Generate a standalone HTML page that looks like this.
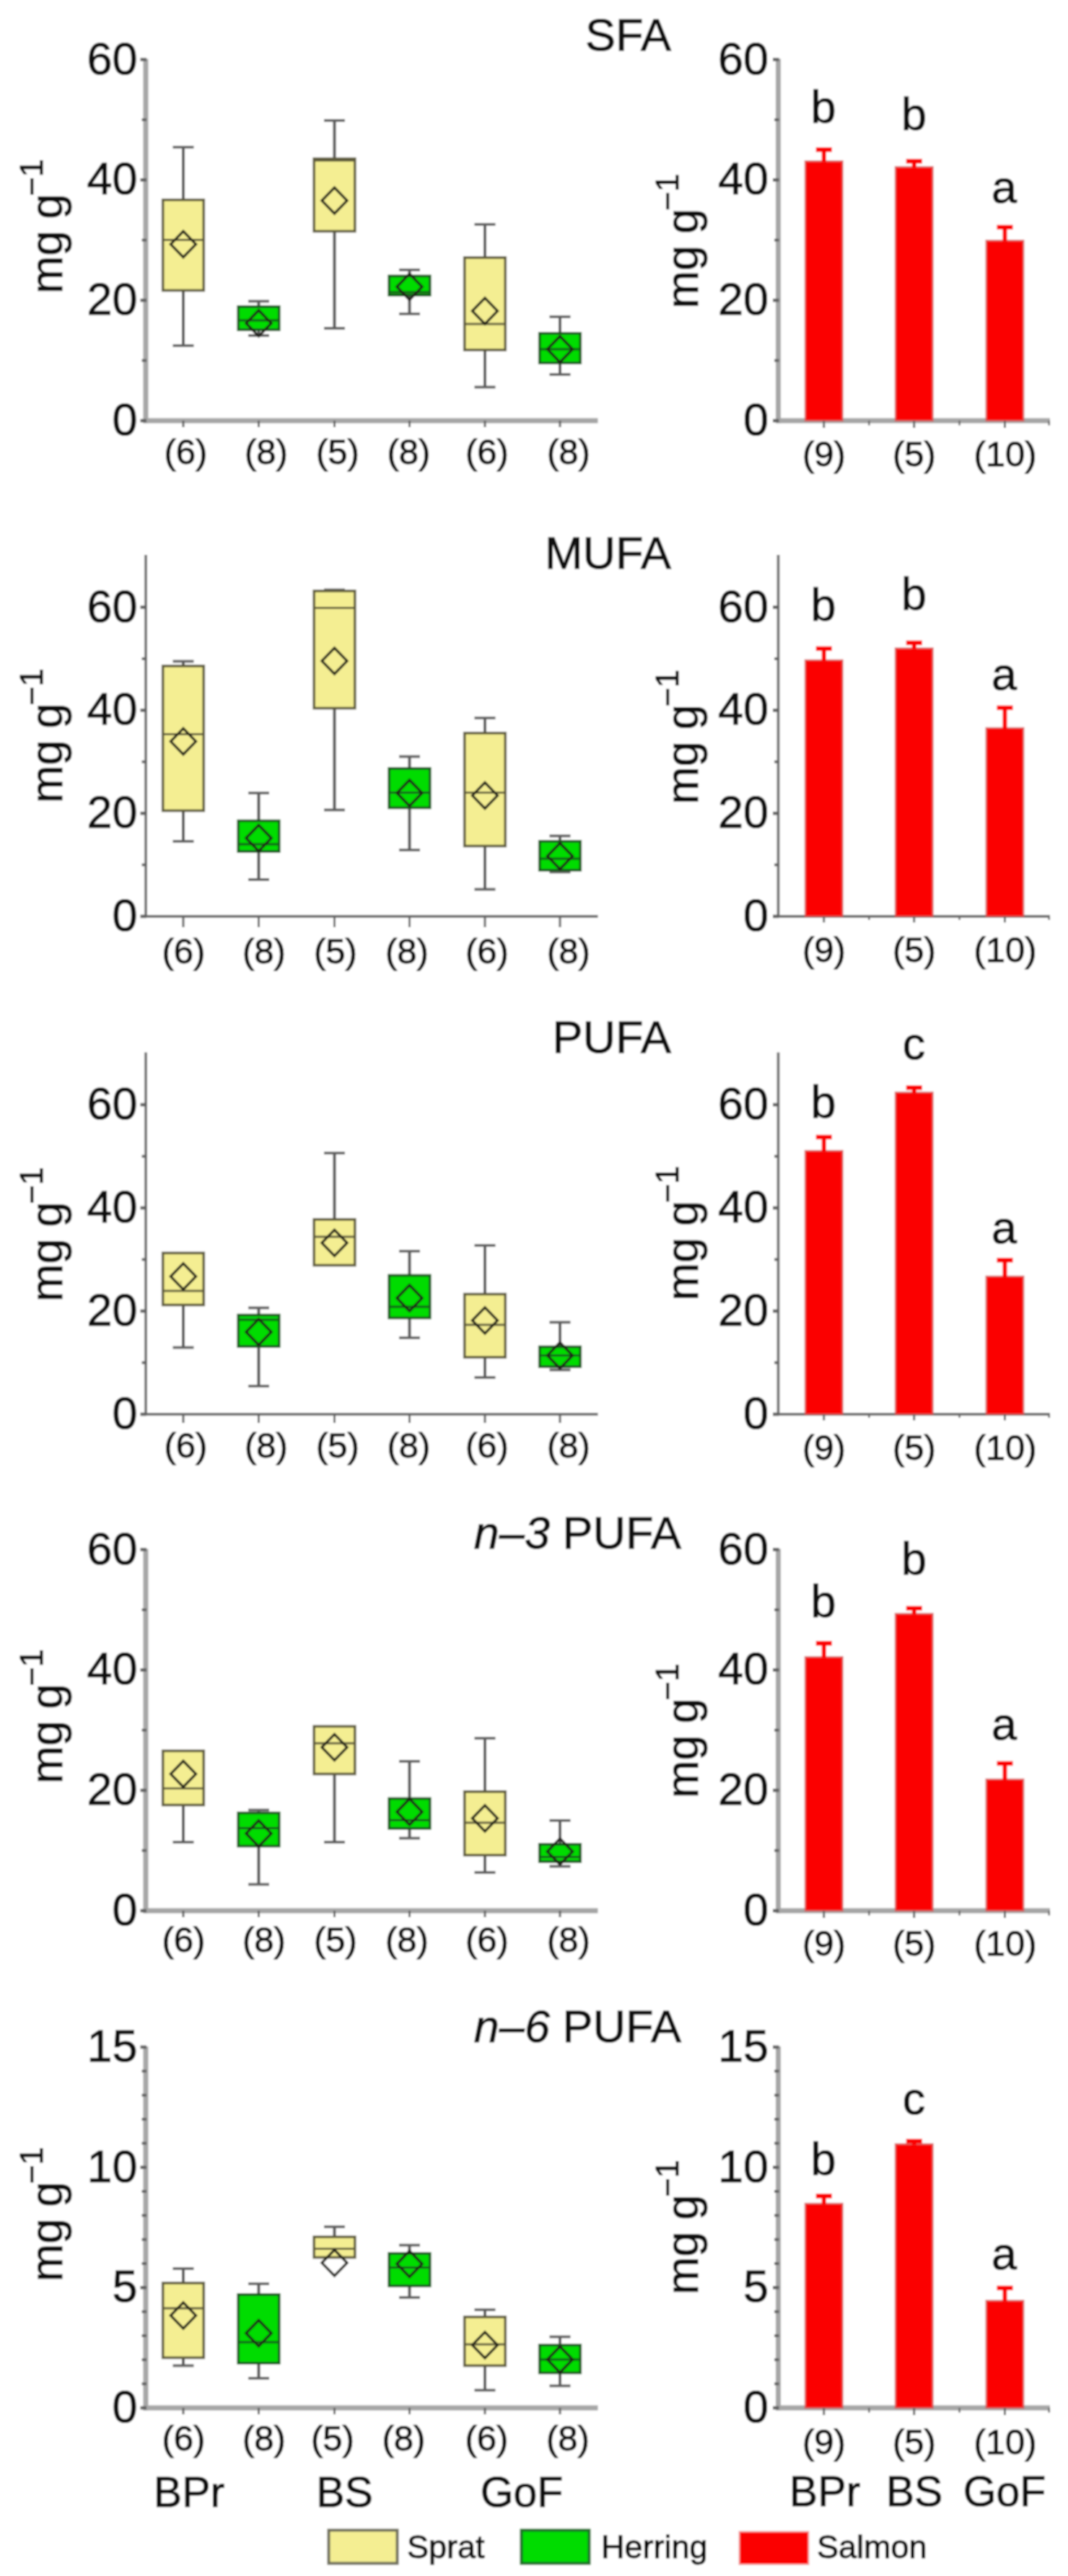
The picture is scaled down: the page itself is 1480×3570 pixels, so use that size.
<!DOCTYPE html>
<html><head><meta charset="utf-8"><title>Fatty acids</title>
<style>
html,body{margin:0;padding:0;background:#fff;}
body{width:1480px;height:3570px;overflow:hidden;}
svg{display:block;}
text{font-family:"Liberation Sans",sans-serif;fill:#0a0a0a;stroke:#0a0a0a;stroke-width:1.0px;}
</style></head><body>
<svg width="1480" height="3570" viewBox="0 0 1480 3570">
<rect width="1480" height="3570" fill="#ffffff"/>
<defs><filter id="soft" x="0" y="0" width="100%" height="100%" filterUnits="userSpaceOnUse"><feGaussianBlur stdDeviation="0.85"/></filter></defs>
<g filter="url(#soft)">
<rect width="1480" height="3570" fill="#ffffff"/>
<line x1="202.00" y1="81.50" x2="202.00" y2="586.50" stroke="#a6a6a6" stroke-width="7.0" stroke-linecap="butt"/>
<line x1="198.50" y1="583.00" x2="828.50" y2="583.00" stroke="#a6a6a6" stroke-width="7.0" stroke-linecap="butt"/>
<line x1="194.50" y1="583.00" x2="203.00" y2="583.00" stroke="#606060" stroke-width="4.6" stroke-linecap="butt"/>
<line x1="194.50" y1="416.17" x2="203.00" y2="416.17" stroke="#606060" stroke-width="4.6" stroke-linecap="butt"/>
<line x1="194.50" y1="249.33" x2="203.00" y2="249.33" stroke="#606060" stroke-width="4.6" stroke-linecap="butt"/>
<line x1="194.50" y1="82.50" x2="203.00" y2="82.50" stroke="#606060" stroke-width="4.6" stroke-linecap="butt"/>
<line x1="196.50" y1="499.58" x2="203.00" y2="499.58" stroke="#606060" stroke-width="3.8" stroke-linecap="butt"/>
<line x1="196.50" y1="332.75" x2="203.00" y2="332.75" stroke="#606060" stroke-width="3.8" stroke-linecap="butt"/>
<line x1="196.50" y1="165.92" x2="203.00" y2="165.92" stroke="#606060" stroke-width="3.8" stroke-linecap="butt"/>
<line x1="254.00" y1="583.00" x2="254.00" y2="592.00" stroke="#606060" stroke-width="3.0" stroke-linecap="butt"/>
<line x1="358.50" y1="583.00" x2="358.50" y2="592.00" stroke="#606060" stroke-width="3.0" stroke-linecap="butt"/>
<line x1="463.50" y1="583.00" x2="463.50" y2="592.00" stroke="#606060" stroke-width="3.0" stroke-linecap="butt"/>
<line x1="567.50" y1="583.00" x2="567.50" y2="592.00" stroke="#606060" stroke-width="3.0" stroke-linecap="butt"/>
<line x1="672.00" y1="583.00" x2="672.00" y2="592.00" stroke="#606060" stroke-width="3.0" stroke-linecap="butt"/>
<line x1="776.00" y1="583.00" x2="776.00" y2="592.00" stroke="#606060" stroke-width="3.0" stroke-linecap="butt"/>
<text x="190.50" y="603.00" font-size="63" text-anchor="end" >0</text>
<text x="190.50" y="436.17" font-size="63" text-anchor="end" >20</text>
<text x="190.50" y="269.33" font-size="63" text-anchor="end" >40</text>
<text x="190.50" y="102.50" font-size="63" text-anchor="end" >60</text>
<line x1="254.00" y1="204.00" x2="254.00" y2="277.00" stroke="#505050" stroke-width="4.0" stroke-linecap="butt"/>
<line x1="239.50" y1="204.00" x2="268.50" y2="204.00" stroke="#5e5e5e" stroke-width="3.8" stroke-linecap="butt"/>
<line x1="254.00" y1="402.50" x2="254.00" y2="479.00" stroke="#505050" stroke-width="4.0" stroke-linecap="butt"/>
<line x1="239.50" y1="479.00" x2="268.50" y2="479.00" stroke="#5e5e5e" stroke-width="3.8" stroke-linecap="butt"/>
<rect x="225.70" y="277.00" width="56.60" height="125.50" fill="#f4ee92" stroke="#5f5c3c" stroke-width="3.6"/>
<line x1="225.50" y1="332.50" x2="282.50" y2="332.50" stroke="#5f5c3c" stroke-width="3.0" stroke-linecap="butt"/>
<path d="M236.50 338.50 L254.00 320.50 L271.50 338.50 L254.00 356.50 Z" fill="none" stroke="#1c1c16" stroke-width="3.4" stroke-linejoin="miter"/>
<line x1="358.50" y1="417.50" x2="358.50" y2="425.00" stroke="#505050" stroke-width="4.0" stroke-linecap="butt"/>
<line x1="344.00" y1="417.50" x2="373.00" y2="417.50" stroke="#5e5e5e" stroke-width="3.8" stroke-linecap="butt"/>
<line x1="358.50" y1="457.00" x2="358.50" y2="465.00" stroke="#505050" stroke-width="4.0" stroke-linecap="butt"/>
<line x1="344.00" y1="465.00" x2="373.00" y2="465.00" stroke="#5e5e5e" stroke-width="3.8" stroke-linecap="butt"/>
<rect x="330.20" y="425.00" width="56.60" height="32.00" fill="#02dc02" stroke="#175a1b" stroke-width="3.6"/>
<line x1="330.00" y1="444.00" x2="387.00" y2="444.00" stroke="#175a1b" stroke-width="3.0" stroke-linecap="butt"/>
<path d="M341.00 448.00 L358.50 430.00 L376.00 448.00 L358.50 466.00 Z" fill="none" stroke="#1c1c16" stroke-width="3.4" stroke-linejoin="miter"/>
<line x1="463.50" y1="167.00" x2="463.50" y2="220.00" stroke="#505050" stroke-width="4.0" stroke-linecap="butt"/>
<line x1="449.00" y1="167.00" x2="478.00" y2="167.00" stroke="#5e5e5e" stroke-width="3.8" stroke-linecap="butt"/>
<line x1="463.50" y1="320.50" x2="463.50" y2="455.00" stroke="#505050" stroke-width="4.0" stroke-linecap="butt"/>
<line x1="449.00" y1="455.00" x2="478.00" y2="455.00" stroke="#5e5e5e" stroke-width="3.8" stroke-linecap="butt"/>
<rect x="435.20" y="220.00" width="56.60" height="100.50" fill="#f4ee92" stroke="#5f5c3c" stroke-width="3.6"/>
<line x1="435.00" y1="222.50" x2="492.00" y2="222.50" stroke="#5f5c3c" stroke-width="3.0" stroke-linecap="butt"/>
<path d="M446.00 278.00 L463.50 260.00 L481.00 278.00 L463.50 296.00 Z" fill="none" stroke="#1c1c16" stroke-width="3.4" stroke-linejoin="miter"/>
<line x1="567.50" y1="374.00" x2="567.50" y2="382.50" stroke="#505050" stroke-width="4.0" stroke-linecap="butt"/>
<line x1="553.00" y1="374.00" x2="582.00" y2="374.00" stroke="#5e5e5e" stroke-width="3.8" stroke-linecap="butt"/>
<line x1="567.50" y1="409.00" x2="567.50" y2="435.00" stroke="#505050" stroke-width="4.0" stroke-linecap="butt"/>
<line x1="553.00" y1="435.00" x2="582.00" y2="435.00" stroke="#5e5e5e" stroke-width="3.8" stroke-linecap="butt"/>
<rect x="539.20" y="382.50" width="56.60" height="26.50" fill="#02dc02" stroke="#175a1b" stroke-width="3.6"/>
<line x1="539.00" y1="405.00" x2="596.00" y2="405.00" stroke="#175a1b" stroke-width="3.0" stroke-linecap="butt"/>
<path d="M550.00 397.50 L567.50 379.50 L585.00 397.50 L567.50 415.50 Z" fill="none" stroke="#1c1c16" stroke-width="3.4" stroke-linejoin="miter"/>
<line x1="672.00" y1="311.00" x2="672.00" y2="357.00" stroke="#505050" stroke-width="4.0" stroke-linecap="butt"/>
<line x1="657.50" y1="311.00" x2="686.50" y2="311.00" stroke="#5e5e5e" stroke-width="3.8" stroke-linecap="butt"/>
<line x1="672.00" y1="485.00" x2="672.00" y2="536.50" stroke="#505050" stroke-width="4.0" stroke-linecap="butt"/>
<line x1="657.50" y1="536.50" x2="686.50" y2="536.50" stroke="#5e5e5e" stroke-width="3.8" stroke-linecap="butt"/>
<rect x="643.70" y="357.00" width="56.60" height="128.00" fill="#f4ee92" stroke="#5f5c3c" stroke-width="3.6"/>
<line x1="643.50" y1="449.00" x2="700.50" y2="449.00" stroke="#5f5c3c" stroke-width="3.0" stroke-linecap="butt"/>
<path d="M654.50 431.00 L672.00 413.00 L689.50 431.00 L672.00 449.00 Z" fill="none" stroke="#1c1c16" stroke-width="3.4" stroke-linejoin="miter"/>
<line x1="776.00" y1="439.00" x2="776.00" y2="462.00" stroke="#505050" stroke-width="4.0" stroke-linecap="butt"/>
<line x1="761.50" y1="439.00" x2="790.50" y2="439.00" stroke="#5e5e5e" stroke-width="3.8" stroke-linecap="butt"/>
<line x1="776.00" y1="503.00" x2="776.00" y2="519.00" stroke="#505050" stroke-width="4.0" stroke-linecap="butt"/>
<line x1="761.50" y1="519.00" x2="790.50" y2="519.00" stroke="#5e5e5e" stroke-width="3.8" stroke-linecap="butt"/>
<rect x="747.70" y="462.00" width="56.60" height="41.00" fill="#02dc02" stroke="#175a1b" stroke-width="3.6"/>
<line x1="747.50" y1="484.00" x2="804.50" y2="484.00" stroke="#175a1b" stroke-width="3.0" stroke-linecap="butt"/>
<path d="M758.50 484.00 L776.00 466.00 L793.50 484.00 L776.00 502.00 Z" fill="none" stroke="#1c1c16" stroke-width="3.4" stroke-linejoin="miter"/>
<text x="257.50" y="642.50" font-size="49" text-anchor="middle" >(6)</text>
<text x="369.00" y="642.50" font-size="49" text-anchor="middle" >(8)</text>
<text x="468.00" y="642.50" font-size="49" text-anchor="middle" >(5)</text>
<text x="566.50" y="642.50" font-size="49" text-anchor="middle" >(8)</text>
<text x="675.00" y="642.50" font-size="49" text-anchor="middle" >(6)</text>
<text x="788.00" y="642.50" font-size="49" text-anchor="middle" >(8)</text>
<text x="930.00" y="70.00" font-size="63" text-anchor="end" xml:space="preserve">SFA</text>
<g transform="translate(85.90,407.00) rotate(-90)"><text x="0" y="0" font-size="63" word-spacing="-1.5">mg g</text><text x="135.5" y="-27" font-size="45">−1</text></g>
<line x1="1078.50" y1="81.50" x2="1078.50" y2="586.50" stroke="#a6a6a6" stroke-width="7.0" stroke-linecap="butt"/>
<line x1="1075.00" y1="583.00" x2="1455.00" y2="583.00" stroke="#a6a6a6" stroke-width="7.0" stroke-linecap="butt"/>
<line x1="1071.00" y1="583.00" x2="1079.50" y2="583.00" stroke="#606060" stroke-width="4.6" stroke-linecap="butt"/>
<line x1="1071.00" y1="416.17" x2="1079.50" y2="416.17" stroke="#606060" stroke-width="4.6" stroke-linecap="butt"/>
<line x1="1071.00" y1="249.33" x2="1079.50" y2="249.33" stroke="#606060" stroke-width="4.6" stroke-linecap="butt"/>
<line x1="1071.00" y1="82.50" x2="1079.50" y2="82.50" stroke="#606060" stroke-width="4.6" stroke-linecap="butt"/>
<line x1="1073.00" y1="499.58" x2="1079.50" y2="499.58" stroke="#606060" stroke-width="3.8" stroke-linecap="butt"/>
<line x1="1073.00" y1="332.75" x2="1079.50" y2="332.75" stroke="#606060" stroke-width="3.8" stroke-linecap="butt"/>
<line x1="1073.00" y1="165.92" x2="1079.50" y2="165.92" stroke="#606060" stroke-width="3.8" stroke-linecap="butt"/>
<text x="1065.00" y="603.00" font-size="63" text-anchor="end" >0</text>
<text x="1065.00" y="436.17" font-size="63" text-anchor="end" >20</text>
<text x="1065.00" y="269.33" font-size="63" text-anchor="end" >40</text>
<text x="1065.00" y="102.50" font-size="63" text-anchor="end" >60</text>
<rect x="1116.00" y="223.50" width="51.50" height="359.50" fill="#fb0000" stroke="#d65a5a" stroke-opacity="0.75" stroke-width="2.6"/>
<line x1="1141.75" y1="205.00" x2="1141.75" y2="224.50" stroke="#fb0000" stroke-width="6.0" stroke-linecap="butt"/>
<line x1="1130.75" y1="207.40" x2="1152.75" y2="207.40" stroke="#fb0000" stroke-width="6.4" stroke-linecap="butt"/>
<rect x="1241.00" y="231.50" width="51.50" height="351.50" fill="#fb0000" stroke="#d65a5a" stroke-opacity="0.75" stroke-width="2.6"/>
<line x1="1266.75" y1="221.00" x2="1266.75" y2="232.50" stroke="#fb0000" stroke-width="6.0" stroke-linecap="butt"/>
<line x1="1255.75" y1="223.40" x2="1277.75" y2="223.40" stroke="#fb0000" stroke-width="6.4" stroke-linecap="butt"/>
<rect x="1366.75" y="333.50" width="51.50" height="249.50" fill="#fb0000" stroke="#d65a5a" stroke-opacity="0.75" stroke-width="2.6"/>
<line x1="1392.50" y1="312.50" x2="1392.50" y2="334.50" stroke="#fb0000" stroke-width="6.0" stroke-linecap="butt"/>
<line x1="1381.50" y1="314.90" x2="1403.50" y2="314.90" stroke="#fb0000" stroke-width="6.4" stroke-linecap="butt"/>
<line x1="1141.75" y1="583.00" x2="1141.75" y2="593.00" stroke="#666666" stroke-width="3.0" stroke-linecap="butt"/>
<line x1="1266.75" y1="583.00" x2="1266.75" y2="593.00" stroke="#666666" stroke-width="3.0" stroke-linecap="butt"/>
<line x1="1392.50" y1="583.00" x2="1392.50" y2="593.00" stroke="#666666" stroke-width="3.0" stroke-linecap="butt"/>
<line x1="1204.25" y1="583.00" x2="1204.25" y2="589.50" stroke="#666666" stroke-width="2.6" stroke-linecap="butt"/>
<line x1="1329.62" y1="583.00" x2="1329.62" y2="589.50" stroke="#666666" stroke-width="2.6" stroke-linecap="butt"/>
<line x1="1453.80" y1="583.00" x2="1453.80" y2="589.50" stroke="#666666" stroke-width="2.6" stroke-linecap="butt"/>
<text x="1141.00" y="170.00" font-size="63" text-anchor="middle" >b</text>
<text x="1266.50" y="180.00" font-size="63" text-anchor="middle" >b</text>
<text x="1391.50" y="281.00" font-size="63" text-anchor="middle" >a</text>
<text x="1142.00" y="645.50" font-size="49" text-anchor="middle" >(9)</text>
<text x="1267.00" y="645.50" font-size="49" text-anchor="middle" >(5)</text>
<text x="1393.00" y="645.50" font-size="49" text-anchor="middle" >(10)</text>
<g transform="translate(966.60,427.50) rotate(-90)"><text x="0" y="0" font-size="63" word-spacing="-1.5">mg g</text><text x="135.5" y="-27" font-size="45">−1</text></g>
<line x1="202.00" y1="769.08" x2="202.00" y2="1271.90" stroke="#707070" stroke-width="3.8" stroke-linecap="butt"/>
<line x1="200.10" y1="1270.00" x2="828.50" y2="1270.00" stroke="#707070" stroke-width="3.8" stroke-linecap="butt"/>
<line x1="194.50" y1="1270.00" x2="203.00" y2="1270.00" stroke="#606060" stroke-width="4.6" stroke-linecap="butt"/>
<line x1="194.50" y1="1127.17" x2="203.00" y2="1127.17" stroke="#606060" stroke-width="4.6" stroke-linecap="butt"/>
<line x1="194.50" y1="984.33" x2="203.00" y2="984.33" stroke="#606060" stroke-width="4.6" stroke-linecap="butt"/>
<line x1="194.50" y1="841.50" x2="203.00" y2="841.50" stroke="#606060" stroke-width="4.6" stroke-linecap="butt"/>
<line x1="196.50" y1="1198.58" x2="203.00" y2="1198.58" stroke="#606060" stroke-width="3.8" stroke-linecap="butt"/>
<line x1="196.50" y1="1055.75" x2="203.00" y2="1055.75" stroke="#606060" stroke-width="3.8" stroke-linecap="butt"/>
<line x1="196.50" y1="912.92" x2="203.00" y2="912.92" stroke="#606060" stroke-width="3.8" stroke-linecap="butt"/>
<line x1="254.00" y1="1270.00" x2="254.00" y2="1285.00" stroke="#606060" stroke-width="3.0" stroke-linecap="butt"/>
<line x1="358.50" y1="1270.00" x2="358.50" y2="1285.00" stroke="#606060" stroke-width="3.0" stroke-linecap="butt"/>
<line x1="463.50" y1="1270.00" x2="463.50" y2="1285.00" stroke="#606060" stroke-width="3.0" stroke-linecap="butt"/>
<line x1="567.50" y1="1270.00" x2="567.50" y2="1285.00" stroke="#606060" stroke-width="3.0" stroke-linecap="butt"/>
<line x1="672.00" y1="1270.00" x2="672.00" y2="1285.00" stroke="#606060" stroke-width="3.0" stroke-linecap="butt"/>
<line x1="776.00" y1="1270.00" x2="776.00" y2="1285.00" stroke="#606060" stroke-width="3.0" stroke-linecap="butt"/>
<text x="190.50" y="1290.00" font-size="63" text-anchor="end" >0</text>
<text x="190.50" y="1147.17" font-size="63" text-anchor="end" >20</text>
<text x="190.50" y="1004.33" font-size="63" text-anchor="end" >40</text>
<text x="190.50" y="861.50" font-size="63" text-anchor="end" >60</text>
<line x1="254.00" y1="916.50" x2="254.00" y2="923.00" stroke="#505050" stroke-width="4.0" stroke-linecap="butt"/>
<line x1="239.50" y1="916.50" x2="268.50" y2="916.50" stroke="#5e5e5e" stroke-width="3.8" stroke-linecap="butt"/>
<line x1="254.00" y1="1123.50" x2="254.00" y2="1166.00" stroke="#505050" stroke-width="4.0" stroke-linecap="butt"/>
<line x1="239.50" y1="1166.00" x2="268.50" y2="1166.00" stroke="#5e5e5e" stroke-width="3.8" stroke-linecap="butt"/>
<rect x="225.70" y="923.00" width="56.60" height="200.50" fill="#f4ee92" stroke="#5f5c3c" stroke-width="3.6"/>
<line x1="225.50" y1="1017.50" x2="282.50" y2="1017.50" stroke="#5f5c3c" stroke-width="3.0" stroke-linecap="butt"/>
<path d="M236.50 1027.50 L254.00 1009.50 L271.50 1027.50 L254.00 1045.50 Z" fill="none" stroke="#1c1c16" stroke-width="3.4" stroke-linejoin="miter"/>
<line x1="358.50" y1="1099.00" x2="358.50" y2="1137.50" stroke="#505050" stroke-width="4.0" stroke-linecap="butt"/>
<line x1="344.00" y1="1099.00" x2="373.00" y2="1099.00" stroke="#5e5e5e" stroke-width="3.8" stroke-linecap="butt"/>
<line x1="358.50" y1="1180.00" x2="358.50" y2="1219.00" stroke="#505050" stroke-width="4.0" stroke-linecap="butt"/>
<line x1="344.00" y1="1219.00" x2="373.00" y2="1219.00" stroke="#5e5e5e" stroke-width="3.8" stroke-linecap="butt"/>
<rect x="330.20" y="1137.50" width="56.60" height="42.50" fill="#02dc02" stroke="#175a1b" stroke-width="3.6"/>
<line x1="330.00" y1="1170.00" x2="387.00" y2="1170.00" stroke="#175a1b" stroke-width="3.0" stroke-linecap="butt"/>
<path d="M341.00 1161.50 L358.50 1143.50 L376.00 1161.50 L358.50 1179.50 Z" fill="none" stroke="#1c1c16" stroke-width="3.4" stroke-linejoin="miter"/>
<line x1="463.50" y1="817.50" x2="463.50" y2="819.00" stroke="#505050" stroke-width="4.0" stroke-linecap="butt"/>
<line x1="449.00" y1="817.50" x2="478.00" y2="817.50" stroke="#5e5e5e" stroke-width="3.8" stroke-linecap="butt"/>
<line x1="463.50" y1="981.50" x2="463.50" y2="1122.50" stroke="#505050" stroke-width="4.0" stroke-linecap="butt"/>
<line x1="449.00" y1="1122.50" x2="478.00" y2="1122.50" stroke="#5e5e5e" stroke-width="3.8" stroke-linecap="butt"/>
<rect x="435.20" y="819.00" width="56.60" height="162.50" fill="#f4ee92" stroke="#5f5c3c" stroke-width="3.6"/>
<line x1="435.00" y1="842.50" x2="492.00" y2="842.50" stroke="#5f5c3c" stroke-width="3.0" stroke-linecap="butt"/>
<path d="M446.00 916.00 L463.50 898.00 L481.00 916.00 L463.50 934.00 Z" fill="none" stroke="#1c1c16" stroke-width="3.4" stroke-linejoin="miter"/>
<line x1="567.50" y1="1048.50" x2="567.50" y2="1065.00" stroke="#505050" stroke-width="4.0" stroke-linecap="butt"/>
<line x1="553.00" y1="1048.50" x2="582.00" y2="1048.50" stroke="#5e5e5e" stroke-width="3.8" stroke-linecap="butt"/>
<line x1="567.50" y1="1119.50" x2="567.50" y2="1178.00" stroke="#505050" stroke-width="4.0" stroke-linecap="butt"/>
<line x1="553.00" y1="1178.00" x2="582.00" y2="1178.00" stroke="#5e5e5e" stroke-width="3.8" stroke-linecap="butt"/>
<rect x="539.20" y="1065.00" width="56.60" height="54.50" fill="#02dc02" stroke="#175a1b" stroke-width="3.6"/>
<line x1="539.00" y1="1098.50" x2="596.00" y2="1098.50" stroke="#175a1b" stroke-width="3.0" stroke-linecap="butt"/>
<path d="M550.00 1099.00 L567.50 1081.00 L585.00 1099.00 L567.50 1117.00 Z" fill="none" stroke="#1c1c16" stroke-width="3.4" stroke-linejoin="miter"/>
<line x1="672.00" y1="995.00" x2="672.00" y2="1016.00" stroke="#505050" stroke-width="4.0" stroke-linecap="butt"/>
<line x1="657.50" y1="995.00" x2="686.50" y2="995.00" stroke="#5e5e5e" stroke-width="3.8" stroke-linecap="butt"/>
<line x1="672.00" y1="1172.50" x2="672.00" y2="1232.50" stroke="#505050" stroke-width="4.0" stroke-linecap="butt"/>
<line x1="657.50" y1="1232.50" x2="686.50" y2="1232.50" stroke="#5e5e5e" stroke-width="3.8" stroke-linecap="butt"/>
<rect x="643.70" y="1016.00" width="56.60" height="156.50" fill="#f4ee92" stroke="#5f5c3c" stroke-width="3.6"/>
<line x1="643.50" y1="1098.50" x2="700.50" y2="1098.50" stroke="#5f5c3c" stroke-width="3.0" stroke-linecap="butt"/>
<path d="M654.50 1102.50 L672.00 1084.50 L689.50 1102.50 L672.00 1120.50 Z" fill="none" stroke="#1c1c16" stroke-width="3.4" stroke-linejoin="miter"/>
<line x1="776.00" y1="1158.50" x2="776.00" y2="1166.00" stroke="#505050" stroke-width="4.0" stroke-linecap="butt"/>
<line x1="761.50" y1="1158.50" x2="790.50" y2="1158.50" stroke="#5e5e5e" stroke-width="3.8" stroke-linecap="butt"/>
<line x1="776.00" y1="1206.00" x2="776.00" y2="1208.50" stroke="#505050" stroke-width="4.0" stroke-linecap="butt"/>
<line x1="761.50" y1="1208.50" x2="790.50" y2="1208.50" stroke="#5e5e5e" stroke-width="3.8" stroke-linecap="butt"/>
<rect x="747.70" y="1166.00" width="56.60" height="40.00" fill="#02dc02" stroke="#175a1b" stroke-width="3.6"/>
<line x1="747.50" y1="1190.00" x2="804.50" y2="1190.00" stroke="#175a1b" stroke-width="3.0" stroke-linecap="butt"/>
<path d="M758.50 1186.50 L776.00 1168.50 L793.50 1186.50 L776.00 1204.50 Z" fill="none" stroke="#1c1c16" stroke-width="3.4" stroke-linejoin="miter"/>
<text x="254.50" y="1335.20" font-size="49" text-anchor="middle" >(6)</text>
<text x="366.00" y="1335.20" font-size="49" text-anchor="middle" >(8)</text>
<text x="465.00" y="1335.20" font-size="49" text-anchor="middle" >(5)</text>
<text x="564.00" y="1335.20" font-size="49" text-anchor="middle" >(8)</text>
<text x="675.00" y="1335.20" font-size="49" text-anchor="middle" >(6)</text>
<text x="788.00" y="1335.20" font-size="49" text-anchor="middle" >(8)</text>
<text x="930.00" y="787.50" font-size="63" text-anchor="end" xml:space="preserve">MUFA</text>
<g transform="translate(85.90,1113.00) rotate(-90)"><text x="0" y="0" font-size="63" word-spacing="-1.5">mg g</text><text x="135.5" y="-27" font-size="45">−1</text></g>
<line x1="1078.50" y1="769.08" x2="1078.50" y2="1271.90" stroke="#707070" stroke-width="3.8" stroke-linecap="butt"/>
<line x1="1076.60" y1="1270.00" x2="1455.00" y2="1270.00" stroke="#707070" stroke-width="3.8" stroke-linecap="butt"/>
<line x1="1071.00" y1="1270.00" x2="1079.50" y2="1270.00" stroke="#606060" stroke-width="4.6" stroke-linecap="butt"/>
<line x1="1071.00" y1="1127.17" x2="1079.50" y2="1127.17" stroke="#606060" stroke-width="4.6" stroke-linecap="butt"/>
<line x1="1071.00" y1="984.33" x2="1079.50" y2="984.33" stroke="#606060" stroke-width="4.6" stroke-linecap="butt"/>
<line x1="1071.00" y1="841.50" x2="1079.50" y2="841.50" stroke="#606060" stroke-width="4.6" stroke-linecap="butt"/>
<line x1="1073.00" y1="1198.58" x2="1079.50" y2="1198.58" stroke="#606060" stroke-width="3.8" stroke-linecap="butt"/>
<line x1="1073.00" y1="1055.75" x2="1079.50" y2="1055.75" stroke="#606060" stroke-width="3.8" stroke-linecap="butt"/>
<line x1="1073.00" y1="912.92" x2="1079.50" y2="912.92" stroke="#606060" stroke-width="3.8" stroke-linecap="butt"/>
<text x="1065.00" y="1290.00" font-size="63" text-anchor="end" >0</text>
<text x="1065.00" y="1147.17" font-size="63" text-anchor="end" >20</text>
<text x="1065.00" y="1004.33" font-size="63" text-anchor="end" >40</text>
<text x="1065.00" y="861.50" font-size="63" text-anchor="end" >60</text>
<rect x="1116.00" y="915.00" width="51.50" height="355.00" fill="#fb0000" stroke="#d65a5a" stroke-opacity="0.75" stroke-width="2.6"/>
<line x1="1141.75" y1="896.50" x2="1141.75" y2="916.00" stroke="#fb0000" stroke-width="6.0" stroke-linecap="butt"/>
<line x1="1130.75" y1="898.90" x2="1152.75" y2="898.90" stroke="#fb0000" stroke-width="6.4" stroke-linecap="butt"/>
<rect x="1241.00" y="898.50" width="51.50" height="371.50" fill="#fb0000" stroke="#d65a5a" stroke-opacity="0.75" stroke-width="2.6"/>
<line x1="1266.75" y1="888.50" x2="1266.75" y2="899.50" stroke="#fb0000" stroke-width="6.0" stroke-linecap="butt"/>
<line x1="1255.75" y1="890.90" x2="1277.75" y2="890.90" stroke="#fb0000" stroke-width="6.4" stroke-linecap="butt"/>
<rect x="1366.75" y="1009.00" width="51.50" height="261.00" fill="#fb0000" stroke="#d65a5a" stroke-opacity="0.75" stroke-width="2.6"/>
<line x1="1392.50" y1="978.50" x2="1392.50" y2="1010.00" stroke="#fb0000" stroke-width="6.0" stroke-linecap="butt"/>
<line x1="1381.50" y1="980.90" x2="1403.50" y2="980.90" stroke="#fb0000" stroke-width="6.4" stroke-linecap="butt"/>
<line x1="1141.75" y1="1270.00" x2="1141.75" y2="1278.40" stroke="#666666" stroke-width="3.0" stroke-linecap="butt"/>
<line x1="1266.75" y1="1270.00" x2="1266.75" y2="1278.40" stroke="#666666" stroke-width="3.0" stroke-linecap="butt"/>
<line x1="1392.50" y1="1270.00" x2="1392.50" y2="1278.40" stroke="#666666" stroke-width="3.0" stroke-linecap="butt"/>
<line x1="1204.25" y1="1270.00" x2="1204.25" y2="1274.90" stroke="#666666" stroke-width="2.6" stroke-linecap="butt"/>
<line x1="1329.62" y1="1270.00" x2="1329.62" y2="1274.90" stroke="#666666" stroke-width="2.6" stroke-linecap="butt"/>
<line x1="1453.80" y1="1270.00" x2="1453.80" y2="1274.90" stroke="#666666" stroke-width="2.6" stroke-linecap="butt"/>
<text x="1141.00" y="860.00" font-size="63" text-anchor="middle" >b</text>
<text x="1266.50" y="845.00" font-size="63" text-anchor="middle" >b</text>
<text x="1391.50" y="956.00" font-size="63" text-anchor="middle" >a</text>
<text x="1142.00" y="1332.70" font-size="49" text-anchor="middle" >(9)</text>
<text x="1267.00" y="1332.70" font-size="49" text-anchor="middle" >(5)</text>
<text x="1393.00" y="1332.70" font-size="49" text-anchor="middle" >(10)</text>
<g transform="translate(966.60,1114.70) rotate(-90)"><text x="0" y="0" font-size="63" word-spacing="-1.5">mg g</text><text x="135.5" y="-27" font-size="45">−1</text></g>
<line x1="202.00" y1="1458.50" x2="202.00" y2="1961.90" stroke="#707070" stroke-width="3.8" stroke-linecap="butt"/>
<line x1="200.10" y1="1960.00" x2="828.50" y2="1960.00" stroke="#707070" stroke-width="3.8" stroke-linecap="butt"/>
<line x1="194.50" y1="1960.00" x2="203.00" y2="1960.00" stroke="#606060" stroke-width="4.6" stroke-linecap="butt"/>
<line x1="194.50" y1="1817.00" x2="203.00" y2="1817.00" stroke="#606060" stroke-width="4.6" stroke-linecap="butt"/>
<line x1="194.50" y1="1674.00" x2="203.00" y2="1674.00" stroke="#606060" stroke-width="4.6" stroke-linecap="butt"/>
<line x1="194.50" y1="1531.00" x2="203.00" y2="1531.00" stroke="#606060" stroke-width="4.6" stroke-linecap="butt"/>
<line x1="196.50" y1="1888.50" x2="203.00" y2="1888.50" stroke="#606060" stroke-width="3.8" stroke-linecap="butt"/>
<line x1="196.50" y1="1745.50" x2="203.00" y2="1745.50" stroke="#606060" stroke-width="3.8" stroke-linecap="butt"/>
<line x1="196.50" y1="1602.50" x2="203.00" y2="1602.50" stroke="#606060" stroke-width="3.8" stroke-linecap="butt"/>
<line x1="254.00" y1="1960.00" x2="254.00" y2="1972.00" stroke="#606060" stroke-width="3.0" stroke-linecap="butt"/>
<line x1="358.50" y1="1960.00" x2="358.50" y2="1972.00" stroke="#606060" stroke-width="3.0" stroke-linecap="butt"/>
<line x1="463.50" y1="1960.00" x2="463.50" y2="1972.00" stroke="#606060" stroke-width="3.0" stroke-linecap="butt"/>
<line x1="567.50" y1="1960.00" x2="567.50" y2="1972.00" stroke="#606060" stroke-width="3.0" stroke-linecap="butt"/>
<line x1="672.00" y1="1960.00" x2="672.00" y2="1972.00" stroke="#606060" stroke-width="3.0" stroke-linecap="butt"/>
<line x1="776.00" y1="1960.00" x2="776.00" y2="1972.00" stroke="#606060" stroke-width="3.0" stroke-linecap="butt"/>
<text x="190.50" y="1980.00" font-size="63" text-anchor="end" >0</text>
<text x="190.50" y="1837.00" font-size="63" text-anchor="end" >20</text>
<text x="190.50" y="1694.00" font-size="63" text-anchor="end" >40</text>
<text x="190.50" y="1551.00" font-size="63" text-anchor="end" >60</text>
<line x1="254.00" y1="1808.50" x2="254.00" y2="1867.50" stroke="#505050" stroke-width="4.0" stroke-linecap="butt"/>
<line x1="239.50" y1="1867.50" x2="268.50" y2="1867.50" stroke="#5e5e5e" stroke-width="3.8" stroke-linecap="butt"/>
<rect x="225.70" y="1736.50" width="56.60" height="72.00" fill="#f4ee92" stroke="#5f5c3c" stroke-width="3.6"/>
<line x1="225.50" y1="1789.00" x2="282.50" y2="1789.00" stroke="#5f5c3c" stroke-width="3.0" stroke-linecap="butt"/>
<path d="M236.50 1769.00 L254.00 1751.00 L271.50 1769.00 L254.00 1787.00 Z" fill="none" stroke="#1c1c16" stroke-width="3.4" stroke-linejoin="miter"/>
<line x1="358.50" y1="1812.50" x2="358.50" y2="1822.50" stroke="#505050" stroke-width="4.0" stroke-linecap="butt"/>
<line x1="344.00" y1="1812.50" x2="373.00" y2="1812.50" stroke="#5e5e5e" stroke-width="3.8" stroke-linecap="butt"/>
<line x1="358.50" y1="1866.00" x2="358.50" y2="1921.00" stroke="#505050" stroke-width="4.0" stroke-linecap="butt"/>
<line x1="344.00" y1="1921.00" x2="373.00" y2="1921.00" stroke="#5e5e5e" stroke-width="3.8" stroke-linecap="butt"/>
<rect x="330.20" y="1822.50" width="56.60" height="43.50" fill="#02dc02" stroke="#175a1b" stroke-width="3.6"/>
<line x1="330.00" y1="1829.00" x2="387.00" y2="1829.00" stroke="#175a1b" stroke-width="3.0" stroke-linecap="butt"/>
<path d="M341.00 1846.00 L358.50 1828.00 L376.00 1846.00 L358.50 1864.00 Z" fill="none" stroke="#1c1c16" stroke-width="3.4" stroke-linejoin="miter"/>
<line x1="463.50" y1="1598.00" x2="463.50" y2="1690.00" stroke="#505050" stroke-width="4.0" stroke-linecap="butt"/>
<line x1="449.00" y1="1598.00" x2="478.00" y2="1598.00" stroke="#5e5e5e" stroke-width="3.8" stroke-linecap="butt"/>
<rect x="435.20" y="1690.00" width="56.60" height="63.50" fill="#f4ee92" stroke="#5f5c3c" stroke-width="3.6"/>
<line x1="435.00" y1="1714.00" x2="492.00" y2="1714.00" stroke="#5f5c3c" stroke-width="3.0" stroke-linecap="butt"/>
<path d="M446.00 1722.50 L463.50 1704.50 L481.00 1722.50 L463.50 1740.50 Z" fill="none" stroke="#1c1c16" stroke-width="3.4" stroke-linejoin="miter"/>
<line x1="567.50" y1="1734.00" x2="567.50" y2="1767.50" stroke="#505050" stroke-width="4.0" stroke-linecap="butt"/>
<line x1="553.00" y1="1734.00" x2="582.00" y2="1734.00" stroke="#5e5e5e" stroke-width="3.8" stroke-linecap="butt"/>
<line x1="567.50" y1="1826.50" x2="567.50" y2="1854.00" stroke="#505050" stroke-width="4.0" stroke-linecap="butt"/>
<line x1="553.00" y1="1854.00" x2="582.00" y2="1854.00" stroke="#5e5e5e" stroke-width="3.8" stroke-linecap="butt"/>
<rect x="539.20" y="1767.50" width="56.60" height="59.00" fill="#02dc02" stroke="#175a1b" stroke-width="3.6"/>
<line x1="539.00" y1="1811.00" x2="596.00" y2="1811.00" stroke="#175a1b" stroke-width="3.0" stroke-linecap="butt"/>
<path d="M550.00 1799.00 L567.50 1781.00 L585.00 1799.00 L567.50 1817.00 Z" fill="none" stroke="#1c1c16" stroke-width="3.4" stroke-linejoin="miter"/>
<line x1="672.00" y1="1726.00" x2="672.00" y2="1793.50" stroke="#505050" stroke-width="4.0" stroke-linecap="butt"/>
<line x1="657.50" y1="1726.00" x2="686.50" y2="1726.00" stroke="#5e5e5e" stroke-width="3.8" stroke-linecap="butt"/>
<line x1="672.00" y1="1881.00" x2="672.00" y2="1909.00" stroke="#505050" stroke-width="4.0" stroke-linecap="butt"/>
<line x1="657.50" y1="1909.00" x2="686.50" y2="1909.00" stroke="#5e5e5e" stroke-width="3.8" stroke-linecap="butt"/>
<rect x="643.70" y="1793.50" width="56.60" height="87.50" fill="#f4ee92" stroke="#5f5c3c" stroke-width="3.6"/>
<line x1="643.50" y1="1836.00" x2="700.50" y2="1836.00" stroke="#5f5c3c" stroke-width="3.0" stroke-linecap="butt"/>
<path d="M654.50 1830.00 L672.00 1812.00 L689.50 1830.00 L672.00 1848.00 Z" fill="none" stroke="#1c1c16" stroke-width="3.4" stroke-linejoin="miter"/>
<line x1="776.00" y1="1832.50" x2="776.00" y2="1866.50" stroke="#505050" stroke-width="4.0" stroke-linecap="butt"/>
<line x1="761.50" y1="1832.50" x2="790.50" y2="1832.50" stroke="#5e5e5e" stroke-width="3.8" stroke-linecap="butt"/>
<line x1="776.00" y1="1894.00" x2="776.00" y2="1898.50" stroke="#505050" stroke-width="4.0" stroke-linecap="butt"/>
<line x1="761.50" y1="1898.50" x2="790.50" y2="1898.50" stroke="#5e5e5e" stroke-width="3.8" stroke-linecap="butt"/>
<rect x="747.70" y="1866.50" width="56.60" height="27.50" fill="#02dc02" stroke="#175a1b" stroke-width="3.6"/>
<line x1="747.50" y1="1878.50" x2="804.50" y2="1878.50" stroke="#175a1b" stroke-width="3.0" stroke-linecap="butt"/>
<path d="M758.50 1878.50 L776.00 1860.50 L793.50 1878.50 L776.00 1896.50 Z" fill="none" stroke="#1c1c16" stroke-width="3.4" stroke-linejoin="miter"/>
<text x="257.50" y="2020.20" font-size="49" text-anchor="middle" >(6)</text>
<text x="369.00" y="2020.20" font-size="49" text-anchor="middle" >(8)</text>
<text x="468.00" y="2020.20" font-size="49" text-anchor="middle" >(5)</text>
<text x="566.50" y="2020.20" font-size="49" text-anchor="middle" >(8)</text>
<text x="675.00" y="2020.20" font-size="49" text-anchor="middle" >(6)</text>
<text x="788.00" y="2020.20" font-size="49" text-anchor="middle" >(8)</text>
<text x="930.00" y="1458.50" font-size="63" text-anchor="end" xml:space="preserve">PUFA</text>
<g transform="translate(85.90,1804.00) rotate(-90)"><text x="0" y="0" font-size="63" word-spacing="-1.5">mg g</text><text x="135.5" y="-27" font-size="45">−1</text></g>
<line x1="1078.50" y1="1458.50" x2="1078.50" y2="1961.90" stroke="#707070" stroke-width="3.8" stroke-linecap="butt"/>
<line x1="1076.60" y1="1960.00" x2="1455.00" y2="1960.00" stroke="#707070" stroke-width="3.8" stroke-linecap="butt"/>
<line x1="1071.00" y1="1960.00" x2="1079.50" y2="1960.00" stroke="#606060" stroke-width="4.6" stroke-linecap="butt"/>
<line x1="1071.00" y1="1817.00" x2="1079.50" y2="1817.00" stroke="#606060" stroke-width="4.6" stroke-linecap="butt"/>
<line x1="1071.00" y1="1674.00" x2="1079.50" y2="1674.00" stroke="#606060" stroke-width="4.6" stroke-linecap="butt"/>
<line x1="1071.00" y1="1531.00" x2="1079.50" y2="1531.00" stroke="#606060" stroke-width="4.6" stroke-linecap="butt"/>
<line x1="1073.00" y1="1888.50" x2="1079.50" y2="1888.50" stroke="#606060" stroke-width="3.8" stroke-linecap="butt"/>
<line x1="1073.00" y1="1745.50" x2="1079.50" y2="1745.50" stroke="#606060" stroke-width="3.8" stroke-linecap="butt"/>
<line x1="1073.00" y1="1602.50" x2="1079.50" y2="1602.50" stroke="#606060" stroke-width="3.8" stroke-linecap="butt"/>
<text x="1065.00" y="1980.00" font-size="63" text-anchor="end" >0</text>
<text x="1065.00" y="1837.00" font-size="63" text-anchor="end" >20</text>
<text x="1065.00" y="1694.00" font-size="63" text-anchor="end" >40</text>
<text x="1065.00" y="1551.00" font-size="63" text-anchor="end" >60</text>
<rect x="1116.00" y="1595.00" width="51.50" height="365.00" fill="#fb0000" stroke="#d65a5a" stroke-opacity="0.75" stroke-width="2.6"/>
<line x1="1141.75" y1="1573.50" x2="1141.75" y2="1596.00" stroke="#fb0000" stroke-width="6.0" stroke-linecap="butt"/>
<line x1="1130.75" y1="1575.90" x2="1152.75" y2="1575.90" stroke="#fb0000" stroke-width="6.4" stroke-linecap="butt"/>
<rect x="1241.00" y="1514.00" width="51.50" height="446.00" fill="#fb0000" stroke="#d65a5a" stroke-opacity="0.75" stroke-width="2.6"/>
<line x1="1266.75" y1="1505.00" x2="1266.75" y2="1515.00" stroke="#fb0000" stroke-width="6.0" stroke-linecap="butt"/>
<line x1="1255.75" y1="1507.40" x2="1277.75" y2="1507.40" stroke="#fb0000" stroke-width="6.4" stroke-linecap="butt"/>
<rect x="1366.75" y="1769.00" width="51.50" height="191.00" fill="#fb0000" stroke="#d65a5a" stroke-opacity="0.75" stroke-width="2.6"/>
<line x1="1392.50" y1="1744.00" x2="1392.50" y2="1770.00" stroke="#fb0000" stroke-width="6.0" stroke-linecap="butt"/>
<line x1="1381.50" y1="1746.40" x2="1403.50" y2="1746.40" stroke="#fb0000" stroke-width="6.4" stroke-linecap="butt"/>
<line x1="1141.75" y1="1960.00" x2="1141.75" y2="1968.40" stroke="#666666" stroke-width="3.0" stroke-linecap="butt"/>
<line x1="1266.75" y1="1960.00" x2="1266.75" y2="1968.40" stroke="#666666" stroke-width="3.0" stroke-linecap="butt"/>
<line x1="1392.50" y1="1960.00" x2="1392.50" y2="1968.40" stroke="#666666" stroke-width="3.0" stroke-linecap="butt"/>
<line x1="1204.25" y1="1960.00" x2="1204.25" y2="1964.90" stroke="#666666" stroke-width="2.6" stroke-linecap="butt"/>
<line x1="1329.62" y1="1960.00" x2="1329.62" y2="1964.90" stroke="#666666" stroke-width="2.6" stroke-linecap="butt"/>
<line x1="1453.80" y1="1960.00" x2="1453.80" y2="1964.90" stroke="#666666" stroke-width="2.6" stroke-linecap="butt"/>
<text x="1141.00" y="1549.00" font-size="63" text-anchor="middle" >b</text>
<text x="1266.50" y="1467.50" font-size="63" text-anchor="middle" >c</text>
<text x="1391.50" y="1722.50" font-size="63" text-anchor="middle" >a</text>
<text x="1142.00" y="2022.70" font-size="49" text-anchor="middle" >(9)</text>
<text x="1267.00" y="2022.70" font-size="49" text-anchor="middle" >(5)</text>
<text x="1393.00" y="2022.70" font-size="49" text-anchor="middle" >(10)</text>
<g transform="translate(966.60,1802.50) rotate(-90)"><text x="0" y="0" font-size="63" word-spacing="-1.5">mg g</text><text x="135.5" y="-27" font-size="45">−1</text></g>
<line x1="202.00" y1="2146.50" x2="202.00" y2="2651.50" stroke="#a6a6a6" stroke-width="7.0" stroke-linecap="butt"/>
<line x1="198.50" y1="2648.00" x2="828.50" y2="2648.00" stroke="#a6a6a6" stroke-width="7.0" stroke-linecap="butt"/>
<line x1="194.50" y1="2648.00" x2="203.00" y2="2648.00" stroke="#606060" stroke-width="4.6" stroke-linecap="butt"/>
<line x1="194.50" y1="2481.17" x2="203.00" y2="2481.17" stroke="#606060" stroke-width="4.6" stroke-linecap="butt"/>
<line x1="194.50" y1="2314.33" x2="203.00" y2="2314.33" stroke="#606060" stroke-width="4.6" stroke-linecap="butt"/>
<line x1="194.50" y1="2147.50" x2="203.00" y2="2147.50" stroke="#606060" stroke-width="4.6" stroke-linecap="butt"/>
<line x1="196.50" y1="2564.58" x2="203.00" y2="2564.58" stroke="#606060" stroke-width="3.8" stroke-linecap="butt"/>
<line x1="196.50" y1="2397.75" x2="203.00" y2="2397.75" stroke="#606060" stroke-width="3.8" stroke-linecap="butt"/>
<line x1="196.50" y1="2230.92" x2="203.00" y2="2230.92" stroke="#606060" stroke-width="3.8" stroke-linecap="butt"/>
<line x1="254.00" y1="2648.00" x2="254.00" y2="2657.00" stroke="#606060" stroke-width="3.0" stroke-linecap="butt"/>
<line x1="358.50" y1="2648.00" x2="358.50" y2="2657.00" stroke="#606060" stroke-width="3.0" stroke-linecap="butt"/>
<line x1="463.50" y1="2648.00" x2="463.50" y2="2657.00" stroke="#606060" stroke-width="3.0" stroke-linecap="butt"/>
<line x1="567.50" y1="2648.00" x2="567.50" y2="2657.00" stroke="#606060" stroke-width="3.0" stroke-linecap="butt"/>
<line x1="672.00" y1="2648.00" x2="672.00" y2="2657.00" stroke="#606060" stroke-width="3.0" stroke-linecap="butt"/>
<line x1="776.00" y1="2648.00" x2="776.00" y2="2657.00" stroke="#606060" stroke-width="3.0" stroke-linecap="butt"/>
<text x="190.50" y="2668.00" font-size="63" text-anchor="end" >0</text>
<text x="190.50" y="2501.17" font-size="63" text-anchor="end" >20</text>
<text x="190.50" y="2334.33" font-size="63" text-anchor="end" >40</text>
<text x="190.50" y="2167.50" font-size="63" text-anchor="end" >60</text>
<line x1="254.00" y1="2501.50" x2="254.00" y2="2553.00" stroke="#505050" stroke-width="4.0" stroke-linecap="butt"/>
<line x1="239.50" y1="2553.00" x2="268.50" y2="2553.00" stroke="#5e5e5e" stroke-width="3.8" stroke-linecap="butt"/>
<rect x="225.70" y="2426.50" width="56.60" height="75.00" fill="#f4ee92" stroke="#5f5c3c" stroke-width="3.6"/>
<line x1="225.50" y1="2478.50" x2="282.50" y2="2478.50" stroke="#5f5c3c" stroke-width="3.0" stroke-linecap="butt"/>
<path d="M236.50 2458.50 L254.00 2440.50 L271.50 2458.50 L254.00 2476.50 Z" fill="none" stroke="#1c1c16" stroke-width="3.4" stroke-linejoin="miter"/>
<line x1="358.50" y1="2508.50" x2="358.50" y2="2512.50" stroke="#505050" stroke-width="4.0" stroke-linecap="butt"/>
<line x1="344.00" y1="2508.50" x2="373.00" y2="2508.50" stroke="#5e5e5e" stroke-width="3.8" stroke-linecap="butt"/>
<line x1="358.50" y1="2558.50" x2="358.50" y2="2611.50" stroke="#505050" stroke-width="4.0" stroke-linecap="butt"/>
<line x1="344.00" y1="2611.50" x2="373.00" y2="2611.50" stroke="#5e5e5e" stroke-width="3.8" stroke-linecap="butt"/>
<rect x="330.20" y="2512.50" width="56.60" height="46.00" fill="#02dc02" stroke="#175a1b" stroke-width="3.6"/>
<line x1="330.00" y1="2533.50" x2="387.00" y2="2533.50" stroke="#175a1b" stroke-width="3.0" stroke-linecap="butt"/>
<path d="M341.00 2541.00 L358.50 2523.00 L376.00 2541.00 L358.50 2559.00 Z" fill="none" stroke="#1c1c16" stroke-width="3.4" stroke-linejoin="miter"/>
<line x1="463.50" y1="2458.50" x2="463.50" y2="2553.00" stroke="#505050" stroke-width="4.0" stroke-linecap="butt"/>
<line x1="449.00" y1="2553.00" x2="478.00" y2="2553.00" stroke="#5e5e5e" stroke-width="3.8" stroke-linecap="butt"/>
<rect x="435.20" y="2392.50" width="56.60" height="66.00" fill="#f4ee92" stroke="#5f5c3c" stroke-width="3.6"/>
<line x1="435.00" y1="2416.00" x2="492.00" y2="2416.00" stroke="#5f5c3c" stroke-width="3.0" stroke-linecap="butt"/>
<path d="M446.00 2421.50 L463.50 2403.50 L481.00 2421.50 L463.50 2439.50 Z" fill="none" stroke="#1c1c16" stroke-width="3.4" stroke-linejoin="miter"/>
<line x1="567.50" y1="2441.00" x2="567.50" y2="2492.50" stroke="#505050" stroke-width="4.0" stroke-linecap="butt"/>
<line x1="553.00" y1="2441.00" x2="582.00" y2="2441.00" stroke="#5e5e5e" stroke-width="3.8" stroke-linecap="butt"/>
<line x1="567.50" y1="2534.00" x2="567.50" y2="2547.50" stroke="#505050" stroke-width="4.0" stroke-linecap="butt"/>
<line x1="553.00" y1="2547.50" x2="582.00" y2="2547.50" stroke="#5e5e5e" stroke-width="3.8" stroke-linecap="butt"/>
<rect x="539.20" y="2492.50" width="56.60" height="41.50" fill="#02dc02" stroke="#175a1b" stroke-width="3.6"/>
<line x1="539.00" y1="2522.50" x2="596.00" y2="2522.50" stroke="#175a1b" stroke-width="3.0" stroke-linecap="butt"/>
<path d="M550.00 2511.00 L567.50 2493.00 L585.00 2511.00 L567.50 2529.00 Z" fill="none" stroke="#1c1c16" stroke-width="3.4" stroke-linejoin="miter"/>
<line x1="672.00" y1="2409.00" x2="672.00" y2="2483.00" stroke="#505050" stroke-width="4.0" stroke-linecap="butt"/>
<line x1="657.50" y1="2409.00" x2="686.50" y2="2409.00" stroke="#5e5e5e" stroke-width="3.8" stroke-linecap="butt"/>
<line x1="672.00" y1="2571.00" x2="672.00" y2="2595.00" stroke="#505050" stroke-width="4.0" stroke-linecap="butt"/>
<line x1="657.50" y1="2595.00" x2="686.50" y2="2595.00" stroke="#5e5e5e" stroke-width="3.8" stroke-linecap="butt"/>
<rect x="643.70" y="2483.00" width="56.60" height="88.00" fill="#f4ee92" stroke="#5f5c3c" stroke-width="3.6"/>
<line x1="643.50" y1="2526.00" x2="700.50" y2="2526.00" stroke="#5f5c3c" stroke-width="3.0" stroke-linecap="butt"/>
<path d="M654.50 2520.00 L672.00 2502.00 L689.50 2520.00 L672.00 2538.00 Z" fill="none" stroke="#1c1c16" stroke-width="3.4" stroke-linejoin="miter"/>
<line x1="776.00" y1="2523.00" x2="776.00" y2="2556.00" stroke="#505050" stroke-width="4.0" stroke-linecap="butt"/>
<line x1="761.50" y1="2523.00" x2="790.50" y2="2523.00" stroke="#5e5e5e" stroke-width="3.8" stroke-linecap="butt"/>
<line x1="776.00" y1="2580.00" x2="776.00" y2="2586.50" stroke="#505050" stroke-width="4.0" stroke-linecap="butt"/>
<line x1="761.50" y1="2586.50" x2="790.50" y2="2586.50" stroke="#5e5e5e" stroke-width="3.8" stroke-linecap="butt"/>
<rect x="747.70" y="2556.00" width="56.60" height="24.00" fill="#02dc02" stroke="#175a1b" stroke-width="3.6"/>
<line x1="747.50" y1="2573.50" x2="804.50" y2="2573.50" stroke="#175a1b" stroke-width="3.0" stroke-linecap="butt"/>
<path d="M758.50 2566.00 L776.00 2548.00 L793.50 2566.00 L776.00 2584.00 Z" fill="none" stroke="#1c1c16" stroke-width="3.4" stroke-linejoin="miter"/>
<text x="254.50" y="2705.20" font-size="49" text-anchor="middle" >(6)</text>
<text x="366.00" y="2705.20" font-size="49" text-anchor="middle" >(8)</text>
<text x="465.00" y="2705.20" font-size="49" text-anchor="middle" >(5)</text>
<text x="564.00" y="2705.20" font-size="49" text-anchor="middle" >(8)</text>
<text x="675.00" y="2705.20" font-size="49" text-anchor="middle" >(6)</text>
<text x="788.00" y="2705.20" font-size="49" text-anchor="middle" >(8)</text>
<text x="944.00" y="2146.00" font-size="63" text-anchor="end" xml:space="preserve"><tspan font-style="italic">n–3</tspan> PUFA</text>
<g transform="translate(85.90,2472.00) rotate(-90)"><text x="0" y="0" font-size="63" word-spacing="-1.5">mg g</text><text x="135.5" y="-27" font-size="45">−1</text></g>
<line x1="1078.50" y1="2146.50" x2="1078.50" y2="2651.50" stroke="#a6a6a6" stroke-width="7.0" stroke-linecap="butt"/>
<line x1="1075.00" y1="2648.00" x2="1455.00" y2="2648.00" stroke="#a6a6a6" stroke-width="7.0" stroke-linecap="butt"/>
<line x1="1071.00" y1="2648.00" x2="1079.50" y2="2648.00" stroke="#606060" stroke-width="4.6" stroke-linecap="butt"/>
<line x1="1071.00" y1="2481.17" x2="1079.50" y2="2481.17" stroke="#606060" stroke-width="4.6" stroke-linecap="butt"/>
<line x1="1071.00" y1="2314.33" x2="1079.50" y2="2314.33" stroke="#606060" stroke-width="4.6" stroke-linecap="butt"/>
<line x1="1071.00" y1="2147.50" x2="1079.50" y2="2147.50" stroke="#606060" stroke-width="4.6" stroke-linecap="butt"/>
<line x1="1073.00" y1="2564.58" x2="1079.50" y2="2564.58" stroke="#606060" stroke-width="3.8" stroke-linecap="butt"/>
<line x1="1073.00" y1="2397.75" x2="1079.50" y2="2397.75" stroke="#606060" stroke-width="3.8" stroke-linecap="butt"/>
<line x1="1073.00" y1="2230.92" x2="1079.50" y2="2230.92" stroke="#606060" stroke-width="3.8" stroke-linecap="butt"/>
<text x="1065.00" y="2668.00" font-size="63" text-anchor="end" >0</text>
<text x="1065.00" y="2501.17" font-size="63" text-anchor="end" >20</text>
<text x="1065.00" y="2334.33" font-size="63" text-anchor="end" >40</text>
<text x="1065.00" y="2167.50" font-size="63" text-anchor="end" >60</text>
<rect x="1116.00" y="2296.50" width="51.50" height="351.50" fill="#fb0000" stroke="#d65a5a" stroke-opacity="0.75" stroke-width="2.6"/>
<line x1="1141.75" y1="2275.00" x2="1141.75" y2="2297.50" stroke="#fb0000" stroke-width="6.0" stroke-linecap="butt"/>
<line x1="1130.75" y1="2277.40" x2="1152.75" y2="2277.40" stroke="#fb0000" stroke-width="6.4" stroke-linecap="butt"/>
<rect x="1241.00" y="2236.50" width="51.50" height="411.50" fill="#fb0000" stroke="#d65a5a" stroke-opacity="0.75" stroke-width="2.6"/>
<line x1="1266.75" y1="2226.50" x2="1266.75" y2="2237.50" stroke="#fb0000" stroke-width="6.0" stroke-linecap="butt"/>
<line x1="1255.75" y1="2228.90" x2="1277.75" y2="2228.90" stroke="#fb0000" stroke-width="6.4" stroke-linecap="butt"/>
<rect x="1366.75" y="2466.00" width="51.50" height="182.00" fill="#fb0000" stroke="#d65a5a" stroke-opacity="0.75" stroke-width="2.6"/>
<line x1="1392.50" y1="2441.50" x2="1392.50" y2="2467.00" stroke="#fb0000" stroke-width="6.0" stroke-linecap="butt"/>
<line x1="1381.50" y1="2443.90" x2="1403.50" y2="2443.90" stroke="#fb0000" stroke-width="6.4" stroke-linecap="butt"/>
<line x1="1141.75" y1="2648.00" x2="1141.75" y2="2658.00" stroke="#666666" stroke-width="3.0" stroke-linecap="butt"/>
<line x1="1266.75" y1="2648.00" x2="1266.75" y2="2658.00" stroke="#666666" stroke-width="3.0" stroke-linecap="butt"/>
<line x1="1392.50" y1="2648.00" x2="1392.50" y2="2658.00" stroke="#666666" stroke-width="3.0" stroke-linecap="butt"/>
<line x1="1204.25" y1="2648.00" x2="1204.25" y2="2654.50" stroke="#666666" stroke-width="2.6" stroke-linecap="butt"/>
<line x1="1329.62" y1="2648.00" x2="1329.62" y2="2654.50" stroke="#666666" stroke-width="2.6" stroke-linecap="butt"/>
<line x1="1453.80" y1="2648.00" x2="1453.80" y2="2654.50" stroke="#666666" stroke-width="2.6" stroke-linecap="butt"/>
<text x="1141.00" y="2241.00" font-size="63" text-anchor="middle" >b</text>
<text x="1266.50" y="2181.50" font-size="63" text-anchor="middle" >b</text>
<text x="1391.50" y="2411.00" font-size="63" text-anchor="middle" >a</text>
<text x="1142.00" y="2710.20" font-size="49" text-anchor="middle" >(9)</text>
<text x="1267.00" y="2710.20" font-size="49" text-anchor="middle" >(5)</text>
<text x="1393.00" y="2710.20" font-size="49" text-anchor="middle" >(10)</text>
<g transform="translate(966.60,2492.00) rotate(-90)"><text x="0" y="0" font-size="63" word-spacing="-1.5">mg g</text><text x="135.5" y="-27" font-size="45">−1</text></g>
<line x1="202.00" y1="2836.00" x2="202.00" y2="3340.50" stroke="#a6a6a6" stroke-width="7.0" stroke-linecap="butt"/>
<line x1="198.50" y1="3337.00" x2="828.50" y2="3337.00" stroke="#a6a6a6" stroke-width="7.0" stroke-linecap="butt"/>
<line x1="194.50" y1="3337.00" x2="203.00" y2="3337.00" stroke="#606060" stroke-width="4.6" stroke-linecap="butt"/>
<line x1="194.50" y1="3170.33" x2="203.00" y2="3170.33" stroke="#606060" stroke-width="4.6" stroke-linecap="butt"/>
<line x1="194.50" y1="3003.67" x2="203.00" y2="3003.67" stroke="#606060" stroke-width="4.6" stroke-linecap="butt"/>
<line x1="194.50" y1="2837.00" x2="203.00" y2="2837.00" stroke="#606060" stroke-width="4.6" stroke-linecap="butt"/>
<line x1="196.50" y1="3303.67" x2="203.00" y2="3303.67" stroke="#606060" stroke-width="3.8" stroke-linecap="butt"/>
<line x1="196.50" y1="3270.33" x2="203.00" y2="3270.33" stroke="#606060" stroke-width="3.8" stroke-linecap="butt"/>
<line x1="196.50" y1="3237.00" x2="203.00" y2="3237.00" stroke="#606060" stroke-width="3.8" stroke-linecap="butt"/>
<line x1="196.50" y1="3203.67" x2="203.00" y2="3203.67" stroke="#606060" stroke-width="3.8" stroke-linecap="butt"/>
<line x1="196.50" y1="3137.00" x2="203.00" y2="3137.00" stroke="#606060" stroke-width="3.8" stroke-linecap="butt"/>
<line x1="196.50" y1="3103.67" x2="203.00" y2="3103.67" stroke="#606060" stroke-width="3.8" stroke-linecap="butt"/>
<line x1="196.50" y1="3070.33" x2="203.00" y2="3070.33" stroke="#606060" stroke-width="3.8" stroke-linecap="butt"/>
<line x1="196.50" y1="3037.00" x2="203.00" y2="3037.00" stroke="#606060" stroke-width="3.8" stroke-linecap="butt"/>
<line x1="196.50" y1="2970.33" x2="203.00" y2="2970.33" stroke="#606060" stroke-width="3.8" stroke-linecap="butt"/>
<line x1="196.50" y1="2937.00" x2="203.00" y2="2937.00" stroke="#606060" stroke-width="3.8" stroke-linecap="butt"/>
<line x1="196.50" y1="2903.67" x2="203.00" y2="2903.67" stroke="#606060" stroke-width="3.8" stroke-linecap="butt"/>
<line x1="196.50" y1="2870.33" x2="203.00" y2="2870.33" stroke="#606060" stroke-width="3.8" stroke-linecap="butt"/>
<line x1="254.00" y1="3337.00" x2="254.00" y2="3346.00" stroke="#606060" stroke-width="3.0" stroke-linecap="butt"/>
<line x1="358.50" y1="3337.00" x2="358.50" y2="3346.00" stroke="#606060" stroke-width="3.0" stroke-linecap="butt"/>
<line x1="463.50" y1="3337.00" x2="463.50" y2="3346.00" stroke="#606060" stroke-width="3.0" stroke-linecap="butt"/>
<line x1="567.50" y1="3337.00" x2="567.50" y2="3346.00" stroke="#606060" stroke-width="3.0" stroke-linecap="butt"/>
<line x1="672.00" y1="3337.00" x2="672.00" y2="3346.00" stroke="#606060" stroke-width="3.0" stroke-linecap="butt"/>
<line x1="776.00" y1="3337.00" x2="776.00" y2="3346.00" stroke="#606060" stroke-width="3.0" stroke-linecap="butt"/>
<text x="190.50" y="3357.00" font-size="63" text-anchor="end" >0</text>
<text x="190.50" y="3190.33" font-size="63" text-anchor="end" >5</text>
<text x="190.50" y="3023.67" font-size="63" text-anchor="end" >10</text>
<text x="190.50" y="2857.00" font-size="63" text-anchor="end" >15</text>
<line x1="254.00" y1="3144.00" x2="254.00" y2="3164.00" stroke="#505050" stroke-width="4.0" stroke-linecap="butt"/>
<line x1="239.50" y1="3144.00" x2="268.50" y2="3144.00" stroke="#5e5e5e" stroke-width="3.8" stroke-linecap="butt"/>
<line x1="254.00" y1="3267.50" x2="254.00" y2="3278.50" stroke="#505050" stroke-width="4.0" stroke-linecap="butt"/>
<line x1="239.50" y1="3278.50" x2="268.50" y2="3278.50" stroke="#5e5e5e" stroke-width="3.8" stroke-linecap="butt"/>
<rect x="225.70" y="3164.00" width="56.60" height="103.50" fill="#f4ee92" stroke="#5f5c3c" stroke-width="3.6"/>
<line x1="225.50" y1="3199.00" x2="282.50" y2="3199.00" stroke="#5f5c3c" stroke-width="3.0" stroke-linecap="butt"/>
<path d="M236.50 3209.00 L254.00 3191.00 L271.50 3209.00 L254.00 3227.00 Z" fill="none" stroke="#1c1c16" stroke-width="3.4" stroke-linejoin="miter"/>
<line x1="358.50" y1="3165.00" x2="358.50" y2="3180.00" stroke="#505050" stroke-width="4.0" stroke-linecap="butt"/>
<line x1="344.00" y1="3165.00" x2="373.00" y2="3165.00" stroke="#5e5e5e" stroke-width="3.8" stroke-linecap="butt"/>
<line x1="358.50" y1="3275.00" x2="358.50" y2="3296.00" stroke="#505050" stroke-width="4.0" stroke-linecap="butt"/>
<line x1="344.00" y1="3296.00" x2="373.00" y2="3296.00" stroke="#5e5e5e" stroke-width="3.8" stroke-linecap="butt"/>
<rect x="330.20" y="3180.00" width="56.60" height="95.00" fill="#02dc02" stroke="#175a1b" stroke-width="3.6"/>
<line x1="330.00" y1="3246.00" x2="387.00" y2="3246.00" stroke="#175a1b" stroke-width="3.0" stroke-linecap="butt"/>
<path d="M341.00 3233.50 L358.50 3215.50 L376.00 3233.50 L358.50 3251.50 Z" fill="none" stroke="#1c1c16" stroke-width="3.4" stroke-linejoin="miter"/>
<line x1="463.50" y1="3086.00" x2="463.50" y2="3100.00" stroke="#505050" stroke-width="4.0" stroke-linecap="butt"/>
<line x1="449.00" y1="3086.00" x2="478.00" y2="3086.00" stroke="#5e5e5e" stroke-width="3.8" stroke-linecap="butt"/>
<rect x="435.20" y="3100.00" width="56.60" height="28.50" fill="#f4ee92" stroke="#5f5c3c" stroke-width="3.6"/>
<line x1="435.00" y1="3116.50" x2="492.00" y2="3116.50" stroke="#5f5c3c" stroke-width="3.0" stroke-linecap="butt"/>
<path d="M446.00 3136.00 L463.50 3118.00 L481.00 3136.00 L463.50 3154.00 Z" fill="none" stroke="#1c1c16" stroke-width="3.4" stroke-linejoin="miter"/>
<line x1="567.50" y1="3111.50" x2="567.50" y2="3123.00" stroke="#505050" stroke-width="4.0" stroke-linecap="butt"/>
<line x1="553.00" y1="3111.50" x2="582.00" y2="3111.50" stroke="#5e5e5e" stroke-width="3.8" stroke-linecap="butt"/>
<line x1="567.50" y1="3168.00" x2="567.50" y2="3184.00" stroke="#505050" stroke-width="4.0" stroke-linecap="butt"/>
<line x1="553.00" y1="3184.00" x2="582.00" y2="3184.00" stroke="#5e5e5e" stroke-width="3.8" stroke-linecap="butt"/>
<rect x="539.20" y="3123.00" width="56.60" height="45.00" fill="#02dc02" stroke="#175a1b" stroke-width="3.6"/>
<line x1="539.00" y1="3142.50" x2="596.00" y2="3142.50" stroke="#175a1b" stroke-width="3.0" stroke-linecap="butt"/>
<path d="M550.00 3137.50 L567.50 3119.50 L585.00 3137.50 L567.50 3155.50 Z" fill="none" stroke="#1c1c16" stroke-width="3.4" stroke-linejoin="miter"/>
<line x1="672.00" y1="3201.00" x2="672.00" y2="3211.00" stroke="#505050" stroke-width="4.0" stroke-linecap="butt"/>
<line x1="657.50" y1="3201.00" x2="686.50" y2="3201.00" stroke="#5e5e5e" stroke-width="3.8" stroke-linecap="butt"/>
<line x1="672.00" y1="3278.50" x2="672.00" y2="3312.50" stroke="#505050" stroke-width="4.0" stroke-linecap="butt"/>
<line x1="657.50" y1="3312.50" x2="686.50" y2="3312.50" stroke="#5e5e5e" stroke-width="3.8" stroke-linecap="butt"/>
<rect x="643.70" y="3211.00" width="56.60" height="67.50" fill="#f4ee92" stroke="#5f5c3c" stroke-width="3.6"/>
<line x1="643.50" y1="3249.00" x2="700.50" y2="3249.00" stroke="#5f5c3c" stroke-width="3.0" stroke-linecap="butt"/>
<path d="M654.50 3250.00 L672.00 3232.00 L689.50 3250.00 L672.00 3268.00 Z" fill="none" stroke="#1c1c16" stroke-width="3.4" stroke-linejoin="miter"/>
<line x1="776.00" y1="3238.50" x2="776.00" y2="3250.00" stroke="#505050" stroke-width="4.0" stroke-linecap="butt"/>
<line x1="761.50" y1="3238.50" x2="790.50" y2="3238.50" stroke="#5e5e5e" stroke-width="3.8" stroke-linecap="butt"/>
<line x1="776.00" y1="3288.50" x2="776.00" y2="3306.50" stroke="#505050" stroke-width="4.0" stroke-linecap="butt"/>
<line x1="761.50" y1="3306.50" x2="790.50" y2="3306.50" stroke="#5e5e5e" stroke-width="3.8" stroke-linecap="butt"/>
<rect x="747.70" y="3250.00" width="56.60" height="38.50" fill="#02dc02" stroke="#175a1b" stroke-width="3.6"/>
<line x1="747.50" y1="3270.00" x2="804.50" y2="3270.00" stroke="#175a1b" stroke-width="3.0" stroke-linecap="butt"/>
<path d="M758.50 3270.00 L776.00 3252.00 L793.50 3270.00 L776.00 3288.00 Z" fill="none" stroke="#1c1c16" stroke-width="3.4" stroke-linejoin="miter"/>
<text x="254.50" y="3395.70" font-size="49" text-anchor="middle" >(6)</text>
<text x="366.00" y="3395.70" font-size="49" text-anchor="middle" >(8)</text>
<text x="461.00" y="3395.70" font-size="49" text-anchor="middle" >(5)</text>
<text x="559.50" y="3395.70" font-size="49" text-anchor="middle" >(8)</text>
<text x="674.50" y="3395.70" font-size="49" text-anchor="middle" >(6)</text>
<text x="787.00" y="3395.70" font-size="49" text-anchor="middle" >(8)</text>
<text x="944.00" y="2830.00" font-size="63" text-anchor="end" xml:space="preserve"><tspan font-style="italic">n–6</tspan> PUFA</text>
<g transform="translate(85.90,3162.00) rotate(-90)"><text x="0" y="0" font-size="63" word-spacing="-1.5">mg g</text><text x="135.5" y="-27" font-size="45">−1</text></g>
<line x1="1078.50" y1="2836.00" x2="1078.50" y2="3340.50" stroke="#a6a6a6" stroke-width="7.0" stroke-linecap="butt"/>
<line x1="1075.00" y1="3337.00" x2="1455.00" y2="3337.00" stroke="#a6a6a6" stroke-width="7.0" stroke-linecap="butt"/>
<line x1="1071.00" y1="3337.00" x2="1079.50" y2="3337.00" stroke="#606060" stroke-width="4.6" stroke-linecap="butt"/>
<line x1="1071.00" y1="3170.33" x2="1079.50" y2="3170.33" stroke="#606060" stroke-width="4.6" stroke-linecap="butt"/>
<line x1="1071.00" y1="3003.67" x2="1079.50" y2="3003.67" stroke="#606060" stroke-width="4.6" stroke-linecap="butt"/>
<line x1="1071.00" y1="2837.00" x2="1079.50" y2="2837.00" stroke="#606060" stroke-width="4.6" stroke-linecap="butt"/>
<line x1="1073.00" y1="3303.67" x2="1079.50" y2="3303.67" stroke="#606060" stroke-width="3.8" stroke-linecap="butt"/>
<line x1="1073.00" y1="3270.33" x2="1079.50" y2="3270.33" stroke="#606060" stroke-width="3.8" stroke-linecap="butt"/>
<line x1="1073.00" y1="3237.00" x2="1079.50" y2="3237.00" stroke="#606060" stroke-width="3.8" stroke-linecap="butt"/>
<line x1="1073.00" y1="3203.67" x2="1079.50" y2="3203.67" stroke="#606060" stroke-width="3.8" stroke-linecap="butt"/>
<line x1="1073.00" y1="3137.00" x2="1079.50" y2="3137.00" stroke="#606060" stroke-width="3.8" stroke-linecap="butt"/>
<line x1="1073.00" y1="3103.67" x2="1079.50" y2="3103.67" stroke="#606060" stroke-width="3.8" stroke-linecap="butt"/>
<line x1="1073.00" y1="3070.33" x2="1079.50" y2="3070.33" stroke="#606060" stroke-width="3.8" stroke-linecap="butt"/>
<line x1="1073.00" y1="3037.00" x2="1079.50" y2="3037.00" stroke="#606060" stroke-width="3.8" stroke-linecap="butt"/>
<line x1="1073.00" y1="2970.33" x2="1079.50" y2="2970.33" stroke="#606060" stroke-width="3.8" stroke-linecap="butt"/>
<line x1="1073.00" y1="2937.00" x2="1079.50" y2="2937.00" stroke="#606060" stroke-width="3.8" stroke-linecap="butt"/>
<line x1="1073.00" y1="2903.67" x2="1079.50" y2="2903.67" stroke="#606060" stroke-width="3.8" stroke-linecap="butt"/>
<line x1="1073.00" y1="2870.33" x2="1079.50" y2="2870.33" stroke="#606060" stroke-width="3.8" stroke-linecap="butt"/>
<text x="1065.00" y="3357.00" font-size="63" text-anchor="end" >0</text>
<text x="1065.00" y="3190.33" font-size="63" text-anchor="end" >5</text>
<text x="1065.00" y="3023.67" font-size="63" text-anchor="end" >10</text>
<text x="1065.00" y="2857.00" font-size="63" text-anchor="end" >15</text>
<rect x="1116.00" y="3054.00" width="51.50" height="283.00" fill="#fb0000" stroke="#d65a5a" stroke-opacity="0.75" stroke-width="2.6"/>
<line x1="1141.75" y1="3041.00" x2="1141.75" y2="3055.00" stroke="#fb0000" stroke-width="6.0" stroke-linecap="butt"/>
<line x1="1130.75" y1="3043.40" x2="1152.75" y2="3043.40" stroke="#fb0000" stroke-width="6.4" stroke-linecap="butt"/>
<rect x="1241.00" y="2971.50" width="51.50" height="365.50" fill="#fb0000" stroke="#d65a5a" stroke-opacity="0.75" stroke-width="2.6"/>
<line x1="1266.75" y1="2965.00" x2="1266.75" y2="2972.50" stroke="#fb0000" stroke-width="6.0" stroke-linecap="butt"/>
<line x1="1255.75" y1="2967.40" x2="1277.75" y2="2967.40" stroke="#fb0000" stroke-width="6.4" stroke-linecap="butt"/>
<rect x="1366.75" y="3188.50" width="51.50" height="148.50" fill="#fb0000" stroke="#d65a5a" stroke-opacity="0.75" stroke-width="2.6"/>
<line x1="1392.50" y1="3168.50" x2="1392.50" y2="3189.50" stroke="#fb0000" stroke-width="6.0" stroke-linecap="butt"/>
<line x1="1381.50" y1="3170.90" x2="1403.50" y2="3170.90" stroke="#fb0000" stroke-width="6.4" stroke-linecap="butt"/>
<line x1="1141.75" y1="3337.00" x2="1141.75" y2="3347.00" stroke="#666666" stroke-width="3.0" stroke-linecap="butt"/>
<line x1="1266.75" y1="3337.00" x2="1266.75" y2="3347.00" stroke="#666666" stroke-width="3.0" stroke-linecap="butt"/>
<line x1="1392.50" y1="3337.00" x2="1392.50" y2="3347.00" stroke="#666666" stroke-width="3.0" stroke-linecap="butt"/>
<line x1="1204.25" y1="3337.00" x2="1204.25" y2="3343.50" stroke="#666666" stroke-width="2.6" stroke-linecap="butt"/>
<line x1="1329.62" y1="3337.00" x2="1329.62" y2="3343.50" stroke="#666666" stroke-width="2.6" stroke-linecap="butt"/>
<line x1="1453.80" y1="3337.00" x2="1453.80" y2="3343.50" stroke="#666666" stroke-width="2.6" stroke-linecap="butt"/>
<text x="1141.00" y="3013.50" font-size="63" text-anchor="middle" >b</text>
<text x="1266.50" y="2930.00" font-size="63" text-anchor="middle" >c</text>
<text x="1391.50" y="3145.00" font-size="63" text-anchor="middle" >a</text>
<text x="1142.00" y="3400.70" font-size="49" text-anchor="middle" >(9)</text>
<text x="1267.00" y="3400.70" font-size="49" text-anchor="middle" >(5)</text>
<text x="1393.00" y="3400.70" font-size="49" text-anchor="middle" >(10)</text>
<g transform="translate(966.60,3180.00) rotate(-90)"><text x="0" y="0" font-size="63" word-spacing="-1.5">mg g</text><text x="135.5" y="-27" font-size="45">−1</text></g>
<text x="262.00" y="3474.00" font-size="59" text-anchor="middle" >BPr</text>
<text x="477.50" y="3474.00" font-size="59" text-anchor="middle" >BS</text>
<text x="723.00" y="3474.00" font-size="59" text-anchor="middle" >GoF</text>
<text x="1143.00" y="3472.50" font-size="59" text-anchor="middle" >BPr</text>
<text x="1267.00" y="3472.50" font-size="59" text-anchor="middle" >BS</text>
<text x="1392.00" y="3472.50" font-size="59" text-anchor="middle" >GoF</text>
<rect x="455.5" y="3506.5" width="95" height="46" fill="#f4ee92" stroke="#6f6e5c" stroke-width="4"/>
<text x="564.00" y="3545.00" font-size="45" text-anchor="start" >Sprat</text>
<rect x="722.5" y="3506.5" width="94" height="46" fill="#02dc02" stroke="#1f6f25" stroke-width="4"/>
<text x="833.00" y="3545.00" font-size="45" text-anchor="start" >Herring</text>
<rect x="1024.5" y="3508.5" width="96" height="45.5" fill="#fb0000" stroke="#f2a8a8" stroke-width="2"/>
<text x="1132.00" y="3545.00" font-size="45" text-anchor="start" >Salmon</text>
</g>
</svg>
</body></html>
